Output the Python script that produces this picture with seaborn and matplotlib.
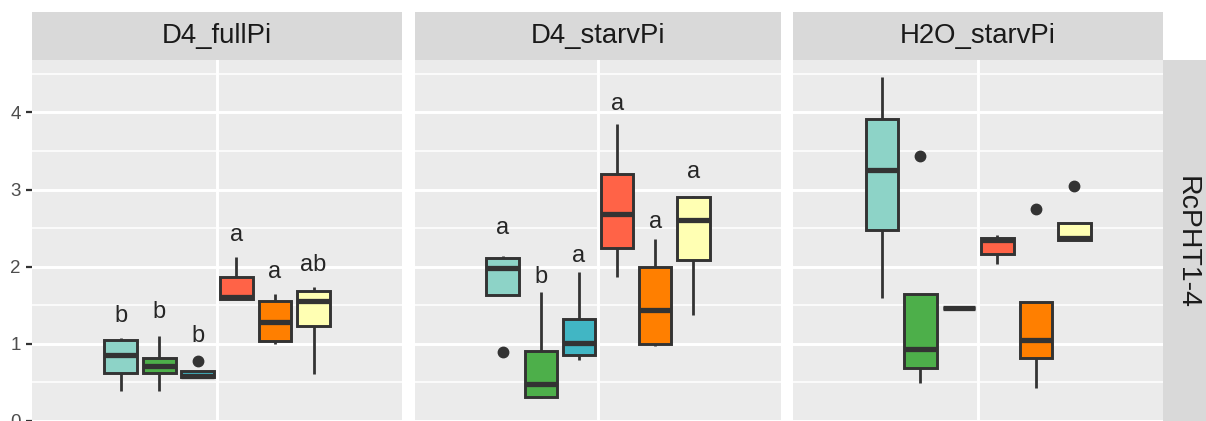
import matplotlib
matplotlib.use("Agg")
import matplotlib.pyplot as plt
from matplotlib.patches import Rectangle
import numpy as np
import pandas as pd
import seaborn as sns

# ---------------- data ----------------
panels = ["D4_fullPi", "D4_starvPi", "H2O_starvPi"]
row_label = "RcPHT1-4"
groups = ["g1", "g2", "g3", "g4", "g5", "g6"]
colors = ["#8DD3C7", "#4DAF4A", "#41B6C4", "#FF6347", "#FF7F00", "#FFFFB3"]

D4_fullPi_g1 = [0.39, 0.62, 0.86, 1.05, 1.07]
D4_fullPi_g2 = [0.39, 0.62, 0.715, 0.815, 1.10]
D4_fullPi_g3 = [0.57, 0.57, 0.585, 0.645, 0.78]
D4_fullPi_g4 = [1.58, 1.58, 1.60, 1.86, 2.12]
D4_fullPi_g5 = [1.00, 1.03, 1.285, 1.56, 1.645]
D4_fullPi_g6 = [0.61, 1.23, 1.55, 1.68, 1.73]

D4_starvPi_g1 = [0.89, 1.63, 1.98, 2.11, 2.14]
D4_starvPi_g2 = [0.30, 0.31, 0.48, 0.90, 1.675]
D4_starvPi_g3 = [0.79, 0.85, 1.005, 1.32, 1.93]
D4_starvPi_g4 = [1.86, 2.24, 2.68, 3.20, 3.85]
D4_starvPi_g5 = [0.97, 1.00, 1.44, 1.995, 2.36]
D4_starvPi_g6 = [1.376, 2.08, 2.60, 2.90, 2.92]

H2O_starvPi_g1 = [1.59, 2.48, 3.25, 3.91, 4.46]
H2O_starvPi_g2 = [0.486, 0.69, 0.93, 1.65, 3.44]
H2O_starvPi_g3 = [1.46, 1.46, 1.46]
H2O_starvPi_g4 = [2.04, 2.17, 2.34, 2.37, 2.41]
H2O_starvPi_g5 = [0.43, 0.82, 1.05, 1.54, 2.75]
H2O_starvPi_g6 = [2.345, 2.345, 2.37, 2.56, 3.05]

panel_data = {
    "D4_fullPi": [D4_fullPi_g1, D4_fullPi_g2, D4_fullPi_g3, D4_fullPi_g4, D4_fullPi_g5, D4_fullPi_g6],
    "D4_starvPi": [D4_starvPi_g1, D4_starvPi_g2, D4_starvPi_g3, D4_starvPi_g4, D4_starvPi_g5, D4_starvPi_g6],
    "H2O_starvPi": [H2O_starvPi_g1, H2O_starvPi_g2, H2O_starvPi_g3, H2O_starvPi_g4, H2O_starvPi_g5, H2O_starvPi_g6],
}

# significance letters and their (baseline) heights
letters = {
    "D4_fullPi": ["b", "b", "b", "a", "a", "ab"],
    "D4_starvPi": ["a", "b", "a", "a", "a", "a"],
    "H2O_starvPi": [],
}
letter_y = {
    "D4_fullPi": [1.277, 1.33, 1.018, 2.336, 1.856, 1.947],
    "D4_starvPi": [2.42, 1.79, 2.055, 4.03, 2.50, 3.15],
    "H2O_starvPi": [],
}
y_ticks = [0, 1, 2, 3, 4]
y_minor = [0.5, 1.5, 2.5, 3.5, 4.5]

rows = []
for p in panels:
    for g, vals in zip(groups, panel_data[p]):
        for v in vals:
            rows.append({"panel": p, "group": g, "x": "all", "value": v})
df = pd.DataFrame(rows)

# ---------------- layout ----------------
W, H = 1206, 421
plt.rcParams["font.family"] = ["Liberation Sans", "DejaVu Sans"]
fig = plt.figure(figsize=(W / 100, H / 100), dpi=100)

ylo, yhi = -0.3, 4.68
px_per_unit = 77.1
top_px = 60.0
ax_h_px = (yhi - ylo) * px_per_unit
bottom_px = top_px + ax_h_px
panel_x = [(32, 402.3), (415, 781), (793.3, 1163)]
strip_top_px = 11.7

width = 0.75
n = len(groups)
slot_centers = [-width / 2 + (i + 0.5) * width / n for i in range(n)]

for k, p in enumerate(panels):
    x0, x1 = panel_x[k]
    ax = fig.add_axes([x0 / W, (H - bottom_px) / H, (x1 - x0) / W, ax_h_px / H])
    ax.set_facecolor("#EBEBEB")
    sub = df[df["panel"] == p]
    sns.boxplot(data=sub, x="x", y="value", hue="group", hue_order=groups,
                palette=colors, saturation=1, width=width, gap=0.15,
                linecolor="#333333", linewidth=2.1, fliersize=7.5,
                showcaps=False, whis=1.5,
                medianprops={"linewidth": 3.8, "color": "#333333", "solid_capstyle": "butt"},
                whiskerprops={"linewidth": 2.0, "color": "#333333"},
                flierprops={"marker": "o", "markerfacecolor": "#333333",
                            "markeredgecolor": "#333333"},
                legend=False, ax=ax, zorder=3)
    ax.set_xlim(-0.6, 0.6)
    ax.set_ylim(ylo, yhi)
    ax.set_yticks(y_ticks)
    ax.set_yticks(y_minor, minor=True)
    ax.grid(which="major", color="white", linewidth=2.1, zorder=0)
    ax.grid(which="minor", axis="y", color="white", linewidth=1.1, zorder=0)
    ax.set_axisbelow(True)
    for s in ax.spines.values():
        s.set_visible(False)
    ax.set_xlabel("")
    ax.set_ylabel("")
    ax.tick_params(axis="x", which="both", length=0, labelbottom=False)
    ax.tick_params(axis="y", which="minor", length=0)
    if k == 0:
        ax.tick_params(axis="y", which="major", length=4, width=1.6,
                       color="#333333", labelcolor="#4D4D4D", labelsize=13.5, pad=4)
    else:
        ax.tick_params(axis="y", which="major", length=0, labelleft=False)

    # letters
    for i, (lab, yy) in enumerate(zip(letters[p], letter_y[p])):
        ax.text(slot_centers[i], yy, lab, ha="center", va="baseline",
                fontsize=17, color="#262626", zorder=5)

    # top strip
    sh = (top_px - strip_top_px) / ax_h_px
    ax.add_patch(Rectangle((0, 1), 1, sh, transform=ax.transAxes,
                           facecolor="#D9D9D9", edgecolor="none", clip_on=False, zorder=1))
    ax.text(0.5, 1 + sh / 2, p, transform=ax.transAxes, ha="center", va="center",
            fontsize=19.8, color="#1A1A1A")

    if k == len(panels) - 1:
        sw = 48.0 / (x1 - x0)
        ax.add_patch(Rectangle((1, 0), sw, 1, transform=ax.transAxes,
                               facecolor="#D9D9D9", edgecolor="none", clip_on=False, zorder=1))
        ax.text(1 + sw / 2, 1 - (242.5 - top_px) / ax_h_px, row_label, transform=ax.transAxes,
                ha="center", va="center", rotation=-90, fontsize=20.5, color="#1A1A1A")

fig.savefig("out.png", dpi=100)
